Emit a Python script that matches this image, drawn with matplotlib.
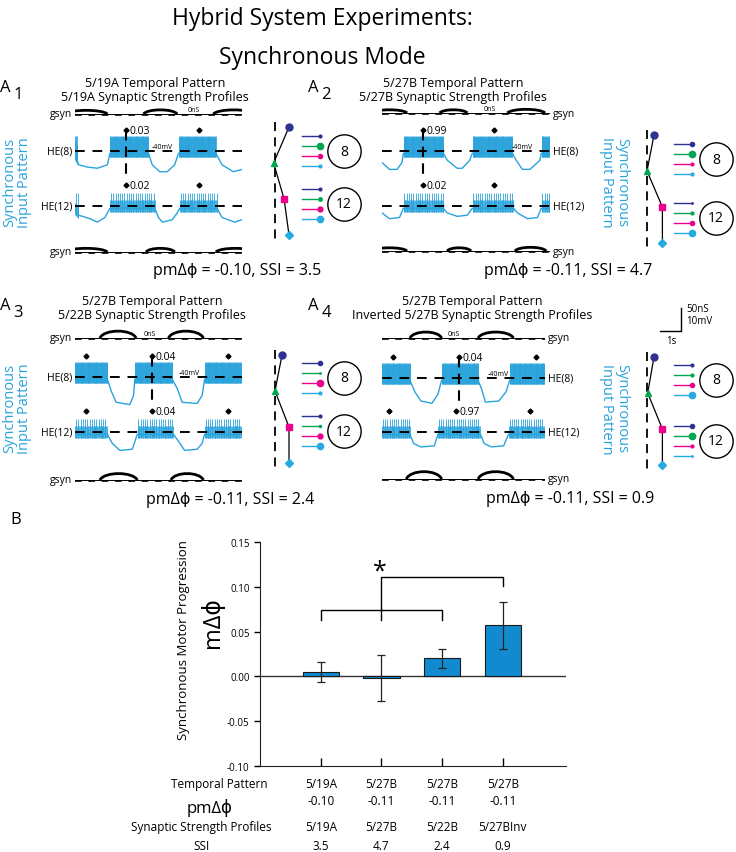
import numpy as np
import matplotlib.pyplot as plt
from matplotlib.path import Path
from matplotlib.patches import PathPatch
import matplotlib.transforms as mtransforms

plt.rcParams['font.family'] = ['Open Sans', 'DejaVu Sans']

# ---------------- panel B data ----------------
temporal = ['5/19A', '5/27B', '5/27B', '5/27B']
pm_dphi = ['-0.10', '-0.11', '-0.11', '-0.11']
strength = ['5/19A', '5/27B', '5/22B', '5/27BInv']
ssi = ['3.5', '4.7', '2.4', '0.9']
m_dphi = [0.005, -0.002, 0.020, 0.057]
m_dphi_err = [0.011, 0.026, 0.011, 0.026]

# ---------------- panel A data ----------------
a_titles = [('5/19A Temporal Pattern', '5/19A Synaptic Strength Profiles'),
            ('5/27B Temporal Pattern', '5/27B Synaptic Strength Profiles'),
            ('5/27B Temporal Pattern', '5/22B Synaptic Strength Profiles'),
            ('5/27B Temporal Pattern', 'Inverted 5/27B Synaptic Strength Profiles')]
a_summary = ['pmΔϕ = -0.10, SSI = 3.5', 'pmΔϕ = -0.11, SSI = 4.7',
             'pmΔϕ = -0.11, SSI = 2.4', 'pmΔϕ = -0.11, SSI = 0.9']

T_END = 6.7  # s
# HE(8) slow wave (s, mV) and bursts (s)
he8_t = [[0, 0.15, 0.5, 0.9, 1.3, 1.4, 2.95, 3.1, 3.4, 3.7, 4.0, 4.15, 5.65, 5.9, 6.35, 6.7],
         [0, 0.3, 0.6, 0.8, 0.85, 2.45, 2.6, 3.0, 3.2, 3.5, 3.6, 5.2, 5.35, 5.6, 5.9, 6.3, 6.35, 6.7],
         [0, 1.3, 1.45, 1.65, 2.2, 2.35, 2.4, 3.9, 4.1, 4.3, 4.9, 5.1, 5.2, 6.7],
         [0, 1.15, 1.35, 1.6, 2.05, 2.3, 2.45, 3.95, 4.1, 4.25, 4.8, 5.1, 5.25, 6.7]]
he8_v = [[-42, -46, -47, -47.5, -46, -41, -41, -46, -49, -49, -46, -41, -41, -46, -49, -48],
         [-45, -48, -48, -45, -41, -41, -44, -47.5, -47.5, -44, -41, -41, -44, -48, -48, -44, -41, -41],
         [-41, -41, -46, -51, -52, -48, -41, -41, -45, -51, -51.5, -48, -41, -41],
         [-41, -41, -46, -50, -51, -47, -41, -41, -45, -50.5, -50, -46, -41, -41]]
he8_bursts = [[(0, 0.1), (1.4, 2.95), (4.15, 5.65)],
              [(0.85, 2.45), (3.6, 5.2), (6.35, 6.7)],
              [(0, 1.3), (2.4, 3.9), (5.2, 6.7)],
              [(0, 1.15), (2.45, 3.95), (5.25, 6.7)]]
# HE(12)
he12_t = [[0, 0.15, 0.6, 0.9, 1.2, 1.4, 3.2, 3.35, 3.5, 3.9, 4.1, 4.2, 5.7, 5.9, 6.4, 6.7],
          [0, 0.3, 0.7, 0.85, 2.45, 2.6, 3.0, 3.4, 3.6, 5.25, 5.4, 5.8, 6.2, 6.35, 6.7],
          [0, 1.3, 1.5, 1.8, 2.3, 2.5, 3.95, 4.15, 4.4, 4.9, 5.1, 5.2, 6.7],
          [0, 1.15, 1.3, 1.6, 2.15, 2.3, 4.05, 4.2, 4.5, 5.0, 5.2, 6.7]]
he12_v = [[-42, -44, -45.5, -47, -45, -41, -41, -45, -47, -46, -43, -41, -41, -45, -47, -46],
          [-43, -45.5, -45, -41, -41, -43, -44.5, -44, -41, -41, -43, -45.5, -45, -41, -41],
          [-41, -41, -45, -48, -47.5, -41, -41, -44, -48, -47.5, -45, -41, -41],
          [-41, -41, -45, -46.5, -46, -41, -41, -45, -46.5, -46, -41, -41]]
he12_bursts = [[(0, 0.15), (1.4, 3.2), (4.2, 5.7)],
               [(0.85, 2.45), (3.6, 5.25), (6.35, 6.7)],
               [(0, 1.3), (2.5, 3.95), (5.2, 6.7)],
               [(0, 1.15), (2.3, 4.05), (5.2, 6.7)]]
# synaptic conductance bumps (start s, end s, peak nS)
gsyn_top = [[(-0.4, 1.3, 8), (2.75, 4.1, 9), (5.55, 7.2, 9)],
            [(-0.4, 1.0, 7), (2.3, 3.4, 7), (5.0, 6.5, 8)],
            [(1.0, 2.45, 15), (3.75, 5.15, 15)],
            [(1.15, 2.45, 13), (3.95, 5.4, 13)]]
gsyn_bot = [[(-0.4, 1.3, 8), (2.85, 4.0, 8), (5.65, 7.2, 8)],
            [(-0.4, 1.0, 7), (2.6, 3.55, 7), (5.3, 6.55, 8)],
            [(1.0, 2.5, 14), (3.85, 5.15, 14)],
            [(1.0, 2.45, 16), (3.95, 5.4, 16)]]
# burst-phase markers (s) and reference values
he8_marks = [[2.05, 4.97], [1.63, 4.47], [0.44, 3.08, 6.13], [0.45, 3.15, 6.35]]
he12_marks = [[2.05, 4.97], [1.63, 4.47], [0.44, 3.08, 6.15], [0.27, 3.05, 6.1]]
ref_mark = [0, 0, 1, 1]
he8_ref_val = ['0.03', '0.99', '0.04', '0.04']
he12_ref_val = ['0.02', '0.02', '0.04', '0.97']
# input pattern phases (blue, green, magenta, cyan)
input_phase = [[0.10, -0.01, 0.065, 0.10], [0.05, 0.0, 0.11, 0.11],
               [0.05, 0.0, 0.10, 0.10], [0.05, 0.005, 0.11, 0.11]]
# synaptic strengths onto HE(8) and HE(12) (relative)
syn8 = [[4, 9, 6, 4], [6, 9, 4, 4], [6, 2, 9, 4], [4, 4, 6, 9]]
syn12 = [[4, 5, 7, 9], [2, 4, 6, 9], [4, 3, 7, 9], [6, 9, 4, 2]]

IN_COLORS = ['#2e3192', '#00a651', '#ec008c', '#27aae1']
IN_MARKERS = ['o', '^', 's', 'D']
BLUE = '#2aa3dc'

W, H = 736.0, 853.0
fig = plt.figure(figsize=(7.36, 8.53), dpi=100)


def axes_px(x0, y0, x1, y1):
    ax = fig.add_axes([x0 / W, 1 - y1 / H, (x1 - x0) / W, (y1 - y0) / H])
    ax.axis('off')
    return ax


def text_px(x, y, s, **kw):
    kw.setdefault('ha', 'center')
    kw.setdefault('va', 'center')
    return fig.text(x / W, 1 - y / H, s, **kw)


text_px(322, 19, 'Hybrid System Experiments:', fontsize=16.5)
text_px(322, 58, 'Synchronous Mode', fontsize=16.5)

layout = [
    dict(x0=75, x1=242, gt=115, h8=152, h12=207, gb=253, side='l', sx=275, sy=128,
         c8=152, c12=205, hx=155, hy=84, lab=5, pm=(237, 271), nS=4.76, mv=3.5),
    dict(x0=382, x1=550, gt=114, h8=152, h12=207, gb=252, side='r', sx=647, sy=136,
         c8=160, c12=219, hx=453, hy=84, lab=313, pm=(568, 271), nS=4.3, mv=5.6),
    dict(x0=75, x1=242, gt=339, h8=378, h12=433, gb=481, side='l', sx=275, sy=356,
         c8=379, c12=432, hx=152, hy=302, lab=5, pm=(230, 500), nS=3.0, mv=4.6),
    dict(x0=382, x1=545, gt=339, h8=379, h12=433, gb=480, side='r', sx=647, sy=358,
         c8=381, c12=442, hx=472, hy=302, lab=313, pm=(570, 499), nS=2.96, mv=4.8),
]

MV_PX = 2.3   # 10 mV = 23 px
NS_PX = 0.46  # 50 nS = 23 px


def he_axes(L, yref):
    return axes_px(L['x0'], yref - 11 * MV_PX, L['x1'], yref + 16 * MV_PX)


def draw_he(ax, t, v, bursts, peak, dt_tall, band):
    ax.set_xlim(0, T_END)
    ax.set_ylim(-56, -29)
    ax.plot(t, v, color=BLUE, lw=1.0)
    for b0, b1 in bursts:
        st = np.arange(b0 + 0.015, b1, 0.035)
        base = np.interp(st, t, v)
        ax.vlines(st, base - 1.5, base + band, color=BLUE, lw=0.6)
        st = np.arange(b0 + dt_tall / 2, b1, dt_tall)
        base = np.interp(st, t, v)
        ax.vlines(st, base - 1.5, peak, color=BLUE, lw=0.6)
    ax.axhline(-40, color='k', lw=1.4, dashes=(5, 4), zorder=5)


def draw_gsyn(ax, bumps):
    ax.set_xlim(0, T_END)
    ax.set_ylim(-6, 22)
    ax.axhline(0, color='k', lw=0.7)
    ax.axhline(-1.5, color='k', lw=1.2, dashes=(4, 4))
    for t0, t1, a in bumps:
        d = t1 - t0
        verts = [(t0, 0), (t0 + 0.12 * d, 1.33 * a), (t1 - 0.12 * d, 1.33 * a), (t1, 0)]
        path = Path(verts, [Path.MOVETO, Path.CURVE4, Path.CURVE4, Path.CURVE4])
        ax.add_patch(PathPatch(path, fc='none', ec='k', lw=2.0))


for i, L in enumerate(layout):
    left = L['side'] == 'l'
    # headers
    text_px(L['hx'], L['hy'], a_titles[i][0], fontsize=9)
    text_px(L['hx'], L['hy'] + 14, a_titles[i][1], fontsize=9)
    text_px(L['lab'], L['hy'] + 4, 'A', fontsize=12)
    text_px(L['lab'] + 13, L['hy'] + 11, str(i + 1), fontsize=12)

    # traces
    ax8 = he_axes(L, L['h8'])
    draw_he(ax8, he8_t[i], he8_v[i], he8_bursts[i], -33.5, 0.035, 7)
    ax12 = he_axes(L, L['h12'])
    draw_he(ax12, he12_t[i], he12_v[i], he12_bursts[i], -34.5, 0.09, 3.5)
    axg1 = axes_px(L['x0'], L['gt'] - 22 * NS_PX, L['x1'], L['gt'] + 6 * NS_PX)
    draw_gsyn(axg1, gsyn_top[i])
    axg2 = axes_px(L['x0'], L['gb'] - 22 * NS_PX, L['x1'], L['gb'] + 6 * NS_PX)
    draw_gsyn(axg2, gsyn_bot[i])
    axg1.text(L['nS'], 1.5, '0nS', fontsize=5, ha='center', va='bottom')
    ax8.text(L['mv'], -39.5, '-40mV', fontsize=5, ha='center', va='bottom')

    # markers
    for ax, marks, val in ((ax8, he8_marks[i], he8_ref_val[i]),
                           (ax12, he12_marks[i], he12_ref_val[i])):
        ax.plot(marks, [-31] * len(marks), 'D', color='k', ms=2.5, clip_on=False)
        tm = marks[ref_mark[i]]
        ax.text(tm + 0.15, -31, val, fontsize=7.5, ha='left', va='center')
    tm = he8_marks[i][ref_mark[i]]
    ax8.plot([tm, tm], [-31, -51], color='k', lw=1.5, dashes=(5, 3), clip_on=False)

    # trace labels
    if left:
        lx, ha = L['x0'] - 3, 'right'
    else:
        lx, ha = L['x1'] + 3, 'left'
    for y, s in ((L['gt'], 'gsyn'), (L['h8'], 'HE(8)'), (L['h12'], 'HE(12)'), (L['gb'], 'gsyn')):
        text_px(lx, y, s, fontsize=7.5, ha=ha)

    # vertical input pattern label
    if left:
        text_px(17, (L['h8'] + L['h12']) / 2 + 3, 'Synchronous\nInput Pattern', fontsize=10.5,
                color=BLUE, rotation=90, linespacing=1.0)
    else:
        text_px(614, (L['h8'] + L['h12']) / 2 + 3, 'Synchronous\nInput Pattern', fontsize=10.5,
                color=BLUE, rotation=270, linespacing=1.0)

    # schematic of input phases
    axs = axes_px(L['sx'] - 20, L['sy'] - 20, L['sx'] + 100, L['sy'] + 128)
    axs.set_xlim(-20 / 140, 100 / 140)
    axs.set_ylim(128, -20)
    rows = np.arange(4) * 36
    axs.plot([0, 0], [-5, 112], color='k', lw=1.3, dashes=(5, 3.5))
    axs.plot(input_phase[i], rows, color='k', lw=0.9, zorder=2)
    for k in range(4):
        ms = 5 if IN_MARKERS[k] != 'D' else 4
        axs.plot(input_phase[i][k], rows[k], IN_MARKERS[k], color=IN_COLORS[k], ms=ms, zorder=3)

    # lollipops and HE cells
    for cy, strengths, lab in ((L['c8'], syn8[i], '8'), (L['c12'], syn12[i], '12')):
        yy = cy - L['sy'] + np.array([-15, -5, 5, 15])
        for k in range(4):
            axs.plot([27 / 140, 45 / 140], [yy[k], yy[k]], color=IN_COLORS[k], lw=1.0)
            axs.plot(45 / 140, yy[k], 'o', color=IN_COLORS[k], ms=strengths[k] * 0.5)
        axs.plot(69 / 140, cy - L['sy'], 'o', mfc='white', mec='k', mew=1.0, ms=24)
        axs.text(69 / 140, cy - L['sy'], lab, fontsize=10, ha='center', va='center')

    text_px(L['pm'][0], L['pm'][1], a_summary[i], fontsize=11.5)

# scale bar
sb = axes_px(600, 300, 736, 350)
sb.set_xlim(600, 736)
sb.set_ylim(350, 300)
sb.plot([660, 681, 681], [332, 332, 309], color='k', lw=1.0)
text_px(686, 310, '50nS', fontsize=7, ha='left')
text_px(686, 321, '10mV', fontsize=7, ha='left')
text_px(671, 342, '1s', fontsize=7)

# ---------------- panel B ----------------
text_px(16, 520, 'B', fontsize=12)
axb = fig.add_axes([260 / W, 1 - 767 / H, 306 / W, 224 / H])
x = np.arange(len(m_dphi))
axb.axhline(0, color='#333333', lw=1.0, zorder=1)
axb.bar(x, m_dphi, width=0.6, color='#128ad0', edgecolor='#1a1a1a', lw=0.8, zorder=2)
axb.errorbar(x, m_dphi, yerr=m_dphi_err, fmt='none', ecolor='#222222',
             elinewidth=0.9, capsize=3, capthick=0.9, zorder=3)
axb.set_xlim(-1, 4.04)
axb.set_ylim(-0.10, 0.15)
axb.set_yticks([-0.10, -0.05, 0.0, 0.05, 0.10, 0.15])
axb.set_yticklabels(['-0.10', '-0.05', '0.00', '0.05', '0.10', '0.15'], fontsize=7)
axb.set_xticks(x)
axb.set_xticklabels([])
axb.tick_params(axis='y', direction='out', length=4, width=1)
axb.tick_params(axis='x', direction='in', length=6, width=1)
for s in ('top', 'right'):
    axb.spines[s].set_visible(False)
for s in ('left', 'bottom'):
    axb.spines[s].set_color('#222222')

# significance brackets
axb.plot([0, 0, 2, 2], [0.0625, 0.074, 0.074, 0.0625], color='k', lw=1.0)
axb.plot([1, 1, 3, 3], [0.0625, 0.111, 0.111, 0.101], color='k', lw=1.0)
axb.text(0.97, 0.117, '*', fontsize=18, ha='center', va='center')

text_px(183, 640, 'Synchronous Motor Progression', fontsize=9.5, rotation=90)
text_px(213, 623, 'mΔϕ', fontsize=17, rotation=90)

# table below the bars
tr = mtransforms.blended_transform_factory(axb.transData, fig.transFigure)
rows_y = [785, 802, 828, 847]
for vals, y in zip((temporal, pm_dphi, strength, ssi), rows_y):
    for xi, v in zip(x, vals):
        axb.text(xi, 1 - y / H, v, transform=tr, fontsize=8.5, ha='center', va='center')
text_px(219, 785, 'Temporal Pattern', fontsize=8.5)
text_px(210, 808, 'pmΔϕ', fontsize=12)
text_px(201, 828, 'Synaptic Strength Profiles', fontsize=8.5)
text_px(201, 847, 'SSI', fontsize=8.5)

fig.savefig('out.png', dpi=100)
